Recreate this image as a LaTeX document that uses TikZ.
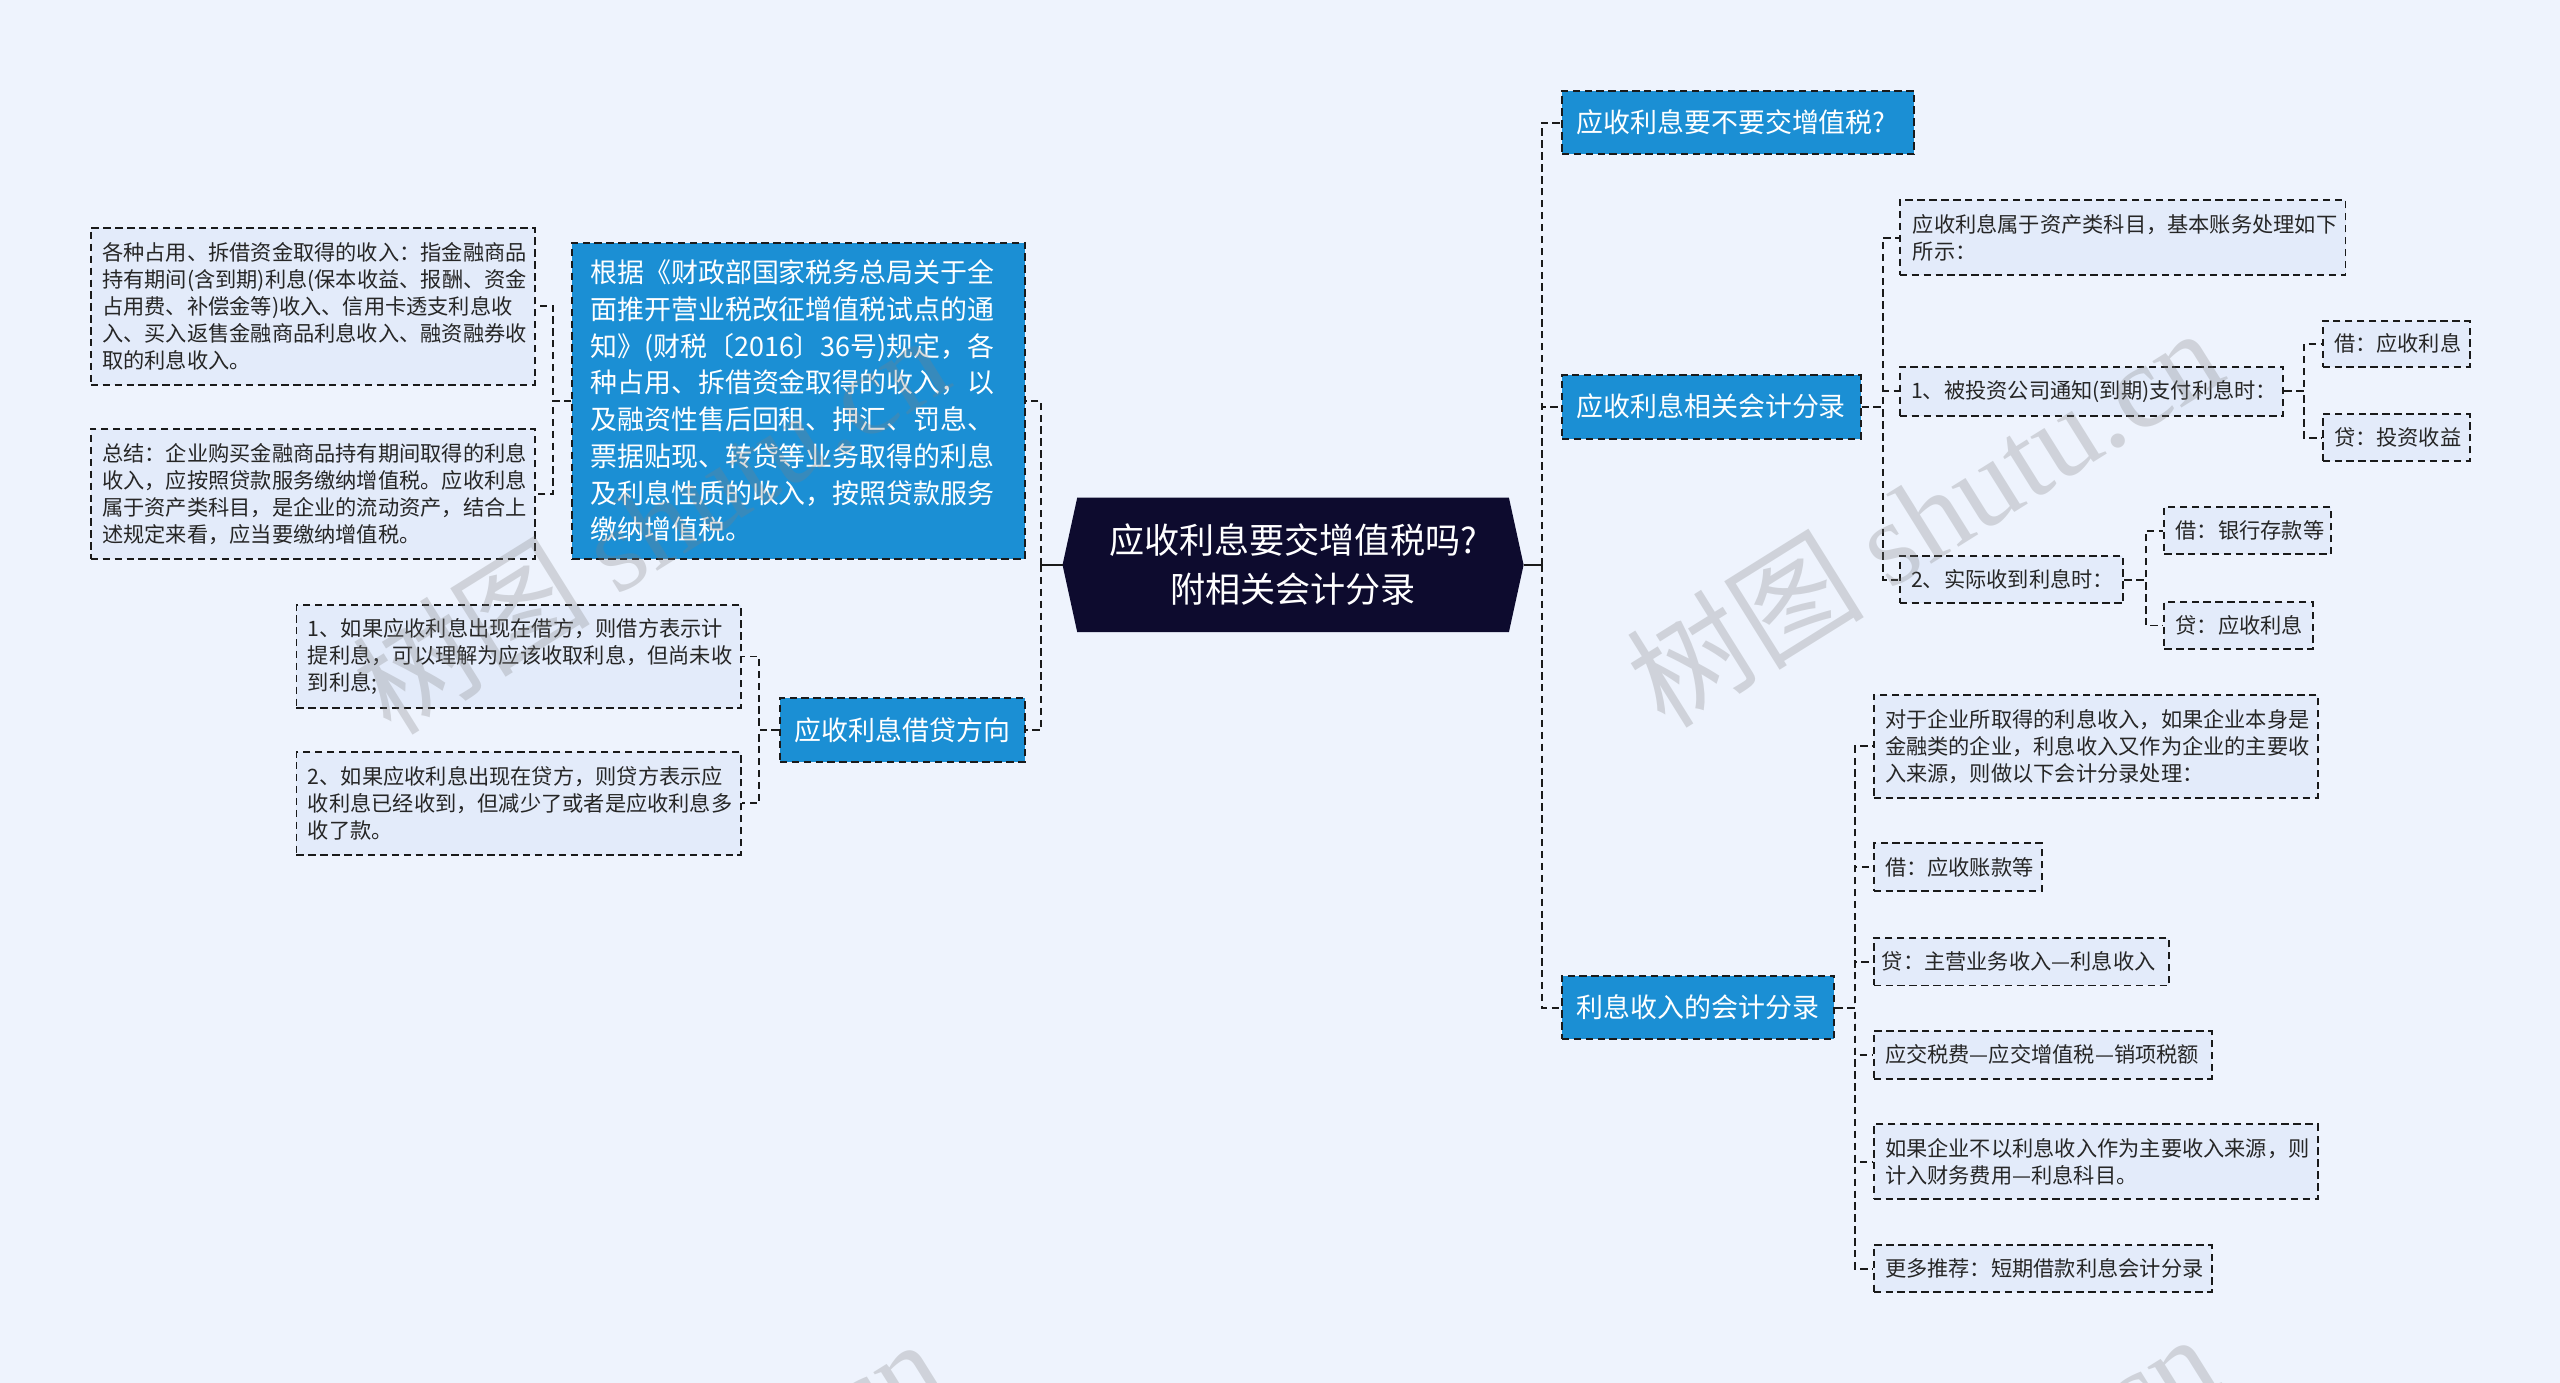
\documentclass[tikz,border=0pt]{standalone}
\usepackage{fontspec}
\setmainfont{Noto Sans CJK SC}
\newfontfamily\wmserif{Liberation Serif}
\newfontfamily\wmcjk{Noto Sans CJK SC}
\usetikzlibrary{backgrounds}
\definecolor{bgc}{HTML}{EEF3FD}
\definecolor{leaffill}{HTML}{E3EBFA}
\definecolor{bluefill}{HTML}{1B8FD4}
\definecolor{rootfill}{HTML}{0D0B2E}
\definecolor{leaftext}{HTML}{262626}
\definecolor{edgec}{HTML}{1A1A1A}
\tikzset{
  dsh/.style={dash pattern=on 4.5pt off 2.8pt, line width=1.2pt},
  leaf/.style={draw=edgec, dsh, fill=leaffill, text=leaftext,
    font=\fontsize{13}{16.5}\selectfont, inner xsep=7pt, inner ysep=0pt,
    align=left, anchor=north west},
  topic/.style={draw=edgec, dsh, fill=bluefill, text=white,
    font=\fontsize{16.5}{22.5}\selectfont, inner xsep=9pt, inner ysep=0pt,
    align=left, anchor=north west},
  conn/.style={draw=edgec, dsh},
  rootline/.style={draw=edgec, line width=1.2pt},
  wmark/.style={text=gray, opacity=0.28, font=\fontsize{73}{73}\selectfont, inner sep=0pt}
}
\begin{document}
\begin{tikzpicture}[x=1pt,y=-1pt]
\useasboundingbox (0,0) rectangle (1568,847);
\begin{scope}[on background layer]
  \fill[bgc] (0,0) rectangle (1568,847);
\end{scope}

% root
\node[text=white, font=\fontsize{21.5}{30}\selectfont, align=center,
  minimum width=282pt, minimum height=82pt, inner sep=0pt] (root) at (792,346)
  {应收利息要交增值税吗?\\附相关会计分录};
\begin{scope}[on background layer]
  \fill[rootfill] (root.west) -- ([xshift=9pt]root.north west) -- ([xshift=-9pt]root.north east)
    -- (root.east) -- ([xshift=-9pt]root.south east) -- ([xshift=9pt]root.south west) -- cycle;
\end{scope}

% left side
\node[topic, inner xsep=11pt, text width=255pt, minimum height=194pt] (big) at (350,148)
  {根据《财政部国家税务总局关于全\\面推开营业税改征增值税试点的通\\知》(财税〔2016〕36号)规定，各\\种占用、拆借资金取得的收入，以\\及融资性售后回租、押汇、罚息、\\票据贴现、转贷等业务取得的利息\\及利息性质的收入，按照贷款服务\\缴纳增值税。};
\node[leaf, text width=258pt, minimum height=96pt] (L1) at (55,139)
  {各种占用、拆借资金取得的收入：指金融商品\\持有期间(含到期)利息(保本收益、报酬、资金\\占用费、补偿金等)收入、信用卡透支利息收\\入、买入返售金融商品利息收入、融资融券收\\取的利息收入。};
\node[leaf, text width=258pt, minimum height=80pt] (L2) at (55,262)
  {总结：企业购买金融商品持有期间取得的利息\\收入，应按照贷款服务缴纳增值税。应收利息\\属于资产类科目，是企业的流动资产，结合上\\述规定来看，应当要缴纳增值税。};
\node[topic, text width=132pt, minimum height=39pt] (jd) at (477,427) {应收利息借贷方向};
\node[leaf, text width=258pt, minimum height=63pt] (J1) at (181,370)
  {1、如果应收利息出现在借方，则借方表示计\\提利息，可以理解为应该收取利息，但尚未收\\到利息;};
\node[leaf, text width=258pt, minimum height=63pt] (J2) at (181,460)
  {2、如果应收利息出现在贷方，则贷方表示应\\收利息已经收到，但减少了或者是应收利息多\\收了款。};

% right side
\node[topic, text width=198pt, minimum height=39pt] (R1) at (956,55) {应收利息要不要交增值税?};
\node[topic, text width=165pt, minimum height=39pt] (R2) at (956,229) {应收利息相关会计分录};
\node[topic, text width=149pt, minimum height=39pt] (R3) at (956,597) {利息收入的会计分录};

\node[leaf, inner xsep=8pt, text width=257pt, minimum height=46pt] (A0) at (1163,122)
  {应收利息属于资产类科目，基本账务处理如下\\所示：};
\node[leaf, inner xsep=7pt, text width=221pt, minimum height=30pt] (A1) at (1163,224)
  {1、被投资公司通知(到期)支付利息时：};
\node[leaf, text width=76pt, minimum height=28pt] (A1a) at (1422,196) {借：应收利息};
\node[leaf, text width=76pt, minimum height=29pt] (A1b) at (1422,253) {贷：投资收益};
\node[leaf, text width=123pt, minimum height=29pt] (A2) at (1163,340) {2、实际收到利息时：};
\node[leaf, text width=88pt, minimum height=29pt] (A2a) at (1325,310) {借：银行存款等};
\node[leaf, text width=77pt, minimum height=29pt] (A2b) at (1325,368) {贷：应收利息};

\node[leaf, text width=258pt, minimum height=63pt] (B1) at (1147,425)
  {对于企业所取得的利息收入，如果企业本身是\\金融类的企业，利息收入又作为企业的主要收\\入来源，则做以下会计分录处理：};
\node[leaf, text width=89pt, minimum height=29pt] (B2) at (1147,516) {借：应收账款等};
\node[leaf, inner xsep=5pt, text width=171pt, minimum height=29pt] (B3) at (1147,574) {贷：主营业务收入—利息收入};
\node[leaf, text width=193pt, minimum height=29pt] (B4) at (1147,631) {应交税费—应交增值税—销项税额};
\node[leaf, text width=258pt, minimum height=46pt] (B5) at (1147,688)
  {如果企业不以利息收入作为主要收入来源，则\\计入财务费用—利息科目。};
\node[leaf, text width=193pt, minimum height=29pt] (B6) at (1147,762) {更多推荐：短期借款利息会计分录};

% connectors left
\coordinate (lb) at ([xshift=-13pt]root.west);
\draw[rootline] (root.west) -- (lb);
\draw[conn] (lb) |- (big.east);
\draw[conn] (lb) |- (jd.east);
\draw[conn] (big.west) -- ++(-11,0) |- (L1.east);
\draw[conn] (big.west) -- ++(-11,0) |- (L2.east);
\draw[conn] (jd.west) -- ++(-12,0) |- (J1.east);
\draw[conn] (jd.west) -- ++(-12,0) |- (J2.east);

% connectors right
\coordinate (rb) at ([xshift=11pt]root.east);
\draw[rootline] (root.east) -- (rb);
\draw[conn] (rb) |- (R1.west);
\draw[conn] (rb) |- (R2.west);
\draw[conn] (rb) |- (R3.west);
\draw[conn] (R2.east) -- ++(13,0) |- (A0.west);
\draw[conn] (R2.east) -- ++(13,0) |- (A1.west);
\draw[conn] (R2.east) -- ++(13,0) |- (A2.west);
\draw[conn] (A1.east) -- ++(12,0) |- (A1a.west);
\draw[conn] (A1.east) -- ++(12,0) |- (A1b.west);
\draw[conn] (A2.east) -- ++(13,0) |- (A2a.west);
\draw[conn] (A2.east) -- ++(13,0) |- (A2b.west);
\draw[conn] (R3.east) -- ++(12,0) |- (B1.west);
\draw[conn] (R3.east) -- ++(12,0) |- (B2.west);
\draw[conn] (R3.east) -- ++(12,0) |- (B3.west);
\draw[conn] (R3.east) -- ++(12,0) |- (B4.west);
\draw[conn] (R3.east) -- ++(12,0) |- (B5.west);
\draw[conn] (R3.east) -- ++(12,0) |- (B6.west);

% watermarks
\begin{scope}
  \clip (0,0) rectangle (1568,847);
  \node[wmark, rotate=32] (wm1) at (1178,316) {\wmcjk 树图 \wmserif shutu.cn};
  \node[wmark, rotate=32] (wm2) at (398,320) {\wmcjk 树图 \wmserif shutu.cn};
  \node[wmark, rotate=32] (wm3) at (1175,932) {\wmcjk 树图 \wmserif shutu.cn};
  \node[wmark, rotate=32] (wm4) at (395,935) {\wmcjk 树图 \wmserif shutu.cn};
\end{scope}
\end{tikzpicture}
\end{document}
